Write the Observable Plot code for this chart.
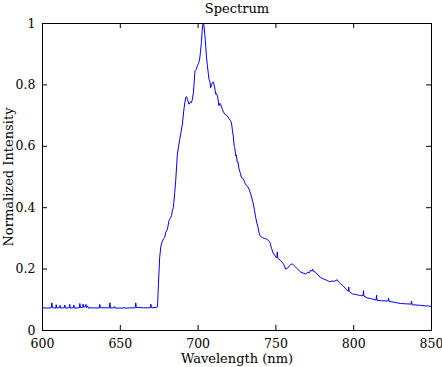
<!DOCTYPE html>
<html>
<head>
<meta charset="utf-8">
<script src="https://cdn.jsdelivr.net/npm/d3@7"></script>
<script src="https://cdn.jsdelivr.net/npm/@observablehq/plot@0.6"></script>
<style>
  html, body { margin: 0; padding: 0; background: white; }
</style>
</head>
<body>
<div id="chart"></div>
<script>
const title = "Spectrum";
const xLabel = "Wavelength (nm)";
const yLabel = "Normalized Intensity";
const xTicks = [600, 650, 700, 750, 800, 850];
const xTickLabels = ["600", "650", "700", "750", "800", "850"];
const yTicks = [0, 0.2, 0.4, 0.6, 0.8, 1];
const yTickLabels = ["0", "0.2", "0.4", "0.6", "0.8", "1"];

const wavelength = [
  600, 603, 605.6, 606, 606.4, 608.5, 608.8, 609.2, 611, 611.3, 611.7, 614, 614.3, 614.7,
  617.2, 617.5, 617.9, 619.8, 620.1, 620.5, 623.7, 624, 624.4, 625.8, 626.1, 626.5, 627.6,
  627.9, 628.3, 629, 629.4, 632, 636.5, 636.8, 637.2, 643, 643.3, 643.7, 646.1, 646.4, 646.8,
  652, 652.3, 652.7, 659.6, 659.9, 660.3, 665, 669.3, 669.6, 670, 673, 673.9, 674.5, 675.3,
  676.1, 676.9, 677.7, 678.5, 679.2, 680.3, 681.3, 682.1, 682.9, 683.5, 684.1, 685, 685.6,
  686.7, 687.5, 688.2, 689, 689.9, 690.9, 692.0, 692.6, 693.1, 693.6, 694.2, 695.0, 695.7,
  696.3, 697.0, 698.0, 698.7, 699.5, 700.3, 701.0, 701.5, 702.1, 702.6, 703.0, 703.5, 703.8,
  704.3, 704.9, 705.4, 706.0, 706.5, 707.0, 707.5, 708.1, 708.6, 709.2, 709.7, 710.2, 710.7,
  711.3, 711.8, 712.4, 712.9, 713.4, 714.0, 714.5, 715.0, 715.6, 716.3, 717.1, 718.0, 718.8,
  719.8, 720.9, 721.4, 722.0, 722.7, 723.2, 723.6, 724.2, 724.6, 725.2, 725.7, 726.3, 727.0,
  727.8, 728.5, 729.5, 730.3, 731.2, 732, 732.7, 733.3, 733.8, 734.6, 735.5, 736.3, 737.0,
  737.8, 738.5, 739.2, 739.8, 740.5, 741.3, 742.5, 743.5, 744.5, 745.3, 746.2, 746.8, 747.3,
  748, 748.7, 749.5, 750.6, 750.9, 751.2, 752, 753.0, 754, 755, 756.3, 757.5, 758.5, 759.5,
  760.6, 761.5, 762.7, 764, 765.9, 767.5, 769.1, 770.5, 771.5, 772.3, 773, 773.6, 774.2,
  775.5, 777, 778.7, 780.5, 783.0, 784.5, 786, 787.3, 788.5, 789.5, 790.3, 791.6, 792.5,
  793.3, 794.5, 795.9, 796.5, 796.8, 797.1, 799.1, 801, 803, 804.4, 806, 806.3, 806.6, 808.7,
  811, 813, 814.4, 814.7, 815.0, 818, 821.6, 822.1, 822.4, 822.7, 826, 830.1, 833, 836.9,
  837.2, 837.5, 840, 843, 846, 848, 850
];
const intensity = [
  0.074, 0.073, 0.074, 0.090, 0.074, 0.073, 0.084, 0.073, 0.075, 0.082, 0.073, 0.074, 0.083, 0.073,
  0.074, 0.085, 0.073, 0.074, 0.083, 0.073, 0.074, 0.088, 0.074, 0.075, 0.086, 0.076, 0.078,
  0.085, 0.075, 0.080, 0.073, 0.074, 0.073, 0.085, 0.074, 0.074, 0.090, 0.073, 0.074, 0.078, 0.073,
  0.073, 0.076, 0.073, 0.074, 0.090, 0.075, 0.074, 0.074, 0.086, 0.074, 0.075, 0.077, 0.150, 0.238,
  0.275, 0.289, 0.298, 0.302, 0.320, 0.330, 0.358, 0.365, 0.374, 0.392, 0.401, 0.450, 0.488,
  0.575, 0.600, 0.623, 0.645, 0.672, 0.721, 0.759, 0.762, 0.753, 0.745, 0.737, 0.745, 0.742,
  0.752, 0.775, 0.846, 0.850, 0.862, 0.870, 0.884, 0.905, 0.938, 0.975, 0.997, 1.000, 0.992,
  0.965, 0.927, 0.890, 0.862, 0.840, 0.818, 0.812, 0.791, 0.800, 0.807, 0.810, 0.802, 0.790,
  0.770, 0.772, 0.764, 0.750, 0.732, 0.740, 0.737, 0.728, 0.721, 0.712, 0.705, 0.702, 0.699,
  0.690, 0.683, 0.677, 0.655, 0.629, 0.600, 0.595, 0.569, 0.572, 0.547, 0.548, 0.526, 0.515,
  0.499, 0.497, 0.488, 0.478, 0.472, 0.468, 0.461, 0.452, 0.445, 0.430, 0.412, 0.390, 0.368,
  0.350, 0.336, 0.318, 0.309, 0.305, 0.303, 0.300, 0.299, 0.296, 0.293, 0.287, 0.275, 0.266,
  0.255, 0.249, 0.243, 0.236, 0.256, 0.236, 0.232, 0.228, 0.222, 0.215, 0.200, 0.203, 0.210, 0.215,
  0.217, 0.212, 0.206, 0.200, 0.190, 0.187, 0.184, 0.190, 0.188, 0.197, 0.193, 0.200, 0.192,
  0.190, 0.181, 0.173, 0.168, 0.163, 0.159, 0.161, 0.160, 0.163, 0.165, 0.158, 0.152, 0.149,
  0.145, 0.138, 0.130, 0.128, 0.142, 0.127, 0.119, 0.118, 0.115, 0.114, 0.113, 0.130, 0.112, 0.106,
  0.104, 0.101, 0.099, 0.115, 0.098, 0.097, 0.096, 0.096, 0.106, 0.095, 0.092, 0.088, 0.087, 0.086,
  0.096, 0.084, 0.083, 0.082, 0.080, 0.080, 0.078
];

const data = wavelength.map((w, i) => ({w, v: intensity[i]}));

const W = 442, H = 367, mL = 42, mR = 11, mT = 23, mB = 37;
const pw = W - mL - mR, ph = H - mT - mB;
const tickLen = 5;
const serif = "DejaVu Serif";
const labelStyle = {text: d => d, fontSize: 13, fontFamily: serif, fill: "black", lineAnchor: "middle", textAnchor: "middle"};

const chart = Plot.plot({
  width: W, height: H,
  marginLeft: mL, marginRight: mR, marginTop: mT, marginBottom: mB,
  style: {background: "white", color: "black"},
  x: {domain: [600, 850]},
  y: {domain: [0, 1]},
  marks: [
    Plot.line(data, {x: "w", y: "v", stroke: "#0000ff", strokeWidth: 1}),
    Plot.tickX(xTicks, {x: d => d, insetTop: ph - tickLen, stroke: "black"}),
    Plot.tickX(xTicks, {x: d => d, insetBottom: ph - tickLen, stroke: "black"}),
    Plot.tickY(yTicks, {y: d => d, insetRight: pw - tickLen, stroke: "black"}),
    Plot.tickY(yTicks, {y: d => d, insetLeft: pw - tickLen, stroke: "black"}),
    Plot.frame({stroke: "black"}),
    Plot.axisX({ticks: xTicks, tickSize: 0, tickPadding: 9, label: null, fontSize: 12.5, fontFamily: serif,
      tickFormat: d => xTickLabels[xTicks.indexOf(d)]}),
    Plot.axisY({ticks: yTicks, tickSize: 0, tickPadding: 7, label: null, fontSize: 12.5, fontFamily: serif,
      tickFormat: d => yTickLabels[yTicks.indexOf(d)]}),
    Plot.text([title], {...labelStyle, frameAnchor: "top", dy: -15}),
    Plot.text([xLabel], {...labelStyle, frameAnchor: "bottom", dy: 28}),
    Plot.text([yLabel], {...labelStyle, frameAnchor: "left", dx: -34, rotate: -90})
  ]
});
document.getElementById("chart").appendChild(chart);
</script>
</body>
</html>
